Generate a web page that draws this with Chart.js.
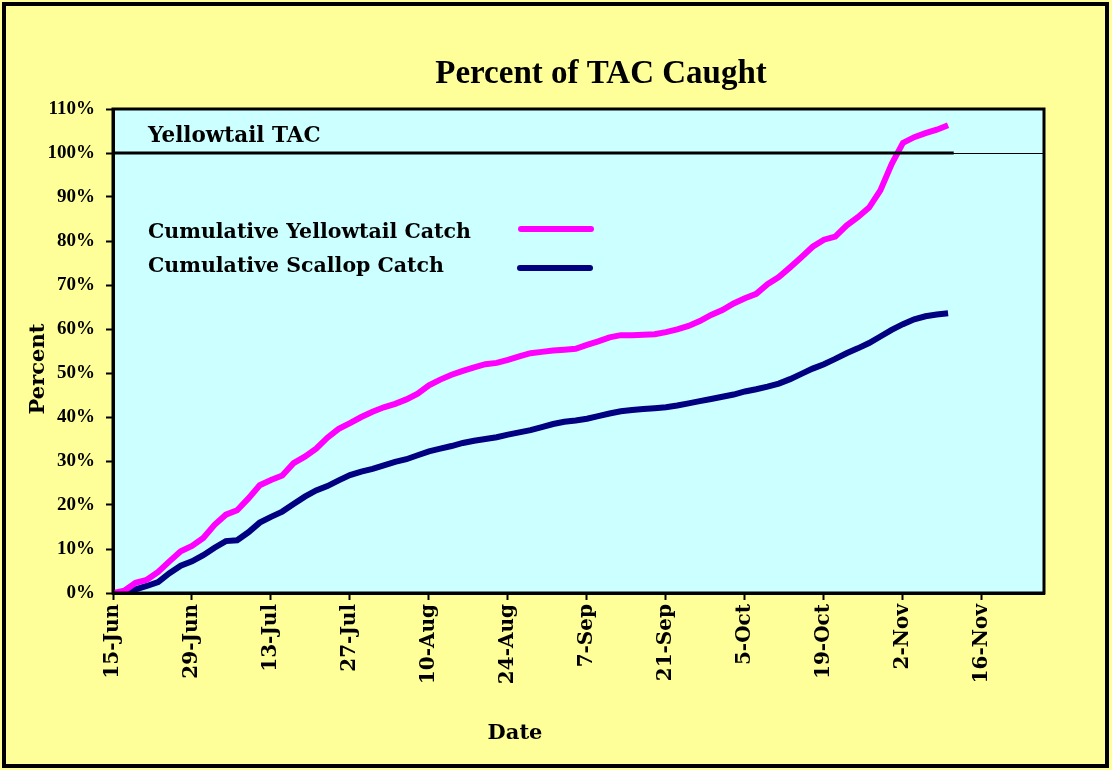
<!DOCTYPE html>
<html lang="en">
<head>
    <meta charset="UTF-8">
    <title>Percent of TAC Caught</title>
    <script src="https://cdn.jsdelivr.net/npm/chart.js"></script>
    <style>
        body { margin: 0; background: #ffffff; }
        #wrap { width: 1112px; height: 770px; }
    </style>
</head>
<body>
    <div id="wrap"><canvas id="tacChart" width="1112" height="770"></canvas></div>
    <script>
        // days since 15-Jun
        const days = [0, 2, 4, 6, 8, 10, 12, 14, 16, 18, 20, 22, 24, 26, 28, 30, 32, 34, 36, 38,
            40, 42, 44, 46, 48, 50, 52, 54, 56, 58, 60, 62, 64, 66, 68, 70, 72, 74, 76, 78,
            80, 82, 84, 86, 88, 90, 92, 94, 96, 98, 100, 102, 104, 106, 108, 110, 112, 114, 116, 118,
            120, 122, 124, 126, 128, 130, 132, 134, 136, 138, 140, 142, 144, 146, 148];

        const yellowtailPct = [0, 0.5, 2.3, 3, 4.8, 7.2, 9.5, 10.7, 12.5, 15.5, 17.8, 18.8, 21.5, 24.5, 25.7, 26.7, 29.5, 31, 32.8, 35.3,
            37.3, 38.6, 40, 41.2, 42.2, 43, 44, 45.3, 47.2, 48.5, 49.6, 50.5, 51.3, 52, 52.3, 53, 53.8, 54.5, 54.8, 55.1,
            55.3, 55.5, 56.4, 57.2, 58.1, 58.6, 58.6, 58.7, 58.8, 59.3, 59.9, 60.7, 61.8, 63.2, 64.3, 65.8, 67, 68, 70.2, 71.8,
            74, 76.3, 78.7, 80.3, 81, 83.5, 85.4, 87.6, 91.5, 97.5, 102.3, 103.6, 104.5, 105.3, 106.3];

        const scallopPct = [0, 0, 0.8, 1.6, 2.5, 4.5, 6.2, 7.2, 8.6, 10.3, 11.8, 12, 13.8, 16, 17.3, 18.5, 20.2, 21.9, 23.3, 24.3,
            25.6, 26.8, 27.6, 28.2, 29, 29.8, 30.4, 31.3, 32.2, 32.8, 33.4, 34.1, 34.6, 35, 35.4, 36, 36.5, 37, 37.7, 38.4,
            38.9, 39.2, 39.6, 40.2, 40.8, 41.3, 41.6, 41.8, 42, 42.2, 42.6, 43.1, 43.6, 44.1, 44.6, 45.1, 45.8, 46.3, 46.9, 47.6,
            48.6, 49.8, 51, 52, 53.2, 54.5, 55.6, 56.8, 58.3, 59.8, 61.1, 62.2, 62.9, 63.3, 63.6];

        const tacDays = [0, 149];
        const tacPct = [100, 100];

        const dateTicks = [0, 14, 28, 42, 56, 70, 84, 98, 112, 126, 140, 154];
        const dateLabels = ['15-Jun', '29-Jun', '13-Jul', '27-Jul', '10-Aug', '24-Aug', '7-Sep',
            '21-Sep', '5-Oct', '19-Oct', '2-Nov', '16-Nov'];

        const xyPairs = (xs, ys) => xs.map((x, i) => ({ x: x, y: ys[i] }));

        const serif = '"DejaVu Serif", serif';
        const timesFont = '"Liberation Serif", "Times New Roman", serif';

        // page background, plot fill, frame and the free text
        const decor = {
            id: 'decor',
            beforeDraw(chart) {
                const c = chart.ctx, a = chart.chartArea;
                c.save();
                c.fillStyle = '#ffff99';
                c.fillRect(0, 0, chart.width, chart.height);
                c.fillStyle = '#ccffff';
                c.fillRect(a.left, a.top, a.right - a.left, a.bottom - a.top);
                c.restore();
            },
            afterDraw(chart) {
                const c = chart.ctx, a = chart.chartArea;
                c.save();
                c.strokeStyle = '#000';
                c.lineWidth = 3;
                c.strokeRect(a.left, a.top, a.right - a.left, a.bottom - a.top);
                c.lineWidth = 4;
                c.strokeRect(4, 4, chart.width - 9, chart.height - 8);

                c.fillStyle = '#000';
                c.textBaseline = 'alphabetic';
                c.textAlign = 'center';
                c.font = 'bold 33px ' + timesFont;
                c.fillText('Percent of TAC Caught', 601, 83);

                c.font = 'bold 21px ' + serif;
                c.fillText('Date', 515, 739);

                c.save();
                c.translate(44, 369);
                c.rotate(-Math.PI / 2);
                c.fillText('Percent', 0, 0);
                c.restore();

                c.textAlign = 'left';
                c.font = 'bold 21.5px ' + serif;
                c.fillText('Yellowtail TAC', 148, 142);
                c.font = 'bold 20.5px ' + serif;
                c.fillText('Cumulative Yellowtail Catch', 148, 238);
                c.fillText('Cumulative Scallop Catch', 148, 272);

                c.lineCap = 'round';
                c.lineWidth = 6;
                c.strokeStyle = '#ff00ff';
                c.beginPath(); c.moveTo(521, 229); c.lineTo(591, 229); c.stroke();
                c.strokeStyle = '#000080';
                c.beginPath(); c.moveTo(520, 268); c.lineTo(590, 268); c.stroke();
                c.restore();
            }
        };

        const ctx = document.getElementById('tacChart').getContext('2d');

        const tacChart = new Chart(ctx, {
            type: 'line',
            data: {
                datasets: [
                    {
                        label: 'Yellowtail TAC',
                        data: xyPairs(tacDays, tacPct),
                        borderColor: '#000',
                        borderWidth: 3,
                        pointRadius: 0
                    },
                    {
                        label: 'Cumulative Yellowtail Catch',
                        data: xyPairs(days, yellowtailPct),
                        borderColor: '#ff00ff',
                        borderWidth: 6,
                        pointRadius: 0,
                        tension: 0
                    },
                    {
                        label: 'Cumulative Scallop Catch',
                        data: xyPairs(days, scallopPct),
                        borderColor: '#000080',
                        borderWidth: 6,
                        pointRadius: 0,
                        tension: 0
                    }
                ]
            },
            options: {
                responsive: false,
                animation: false,
                layout: { padding: { left: 23, top: 109, right: 68, bottom: 57 } },
                plugins: {
                    legend: { display: false },
                    title: { display: false },
                    tooltip: { enabled: false }
                },
                scales: {
                    x: {
                        type: 'linear',
                        min: 0,
                        max: 165,
                        afterFit: s => { s.height = 120; },
                        afterBuildTicks: s => { s.ticks = dateTicks.map(v => ({ value: v })); },
                        border: { color: '#000', width: 3 },
                        grid: { drawOnChartArea: false, drawTicks: true, tickLength: 7, tickColor: '#000', tickWidth: 2 },
                        ticks: {
                            minRotation: 90,
                            maxRotation: 90,
                            autoSkip: false,
                            padding: 4,
                            color: '#000',
                            font: { family: serif, size: 20, weight: 'bold' },
                            callback: v => dateLabels[dateTicks.indexOf(v)]
                        }
                    },
                    y: {
                        min: 0,
                        max: 110,
                        afterFit: s => { s.width = 90; },
                        border: { color: '#000', width: 3 },
                        grid: {
                            drawTicks: true,
                            tickLength: 7,
                            tickColor: '#000',
                            tickWidth: 2,
                            lineWidth: 1,
                            color: c => (c.tick && c.tick.value === 100) ? '#000' : 'rgba(0,0,0,0)'
                        },
                        ticks: {
                            stepSize: 10,
                            padding: 11,
                            color: '#000',
                            font: { family: timesFont, size: 19, weight: 'bold' },
                            callback: v => v + '%'
                        }
                    }
                }
            },
            plugins: [decor]
        });
    </script>
</body>
</html>
